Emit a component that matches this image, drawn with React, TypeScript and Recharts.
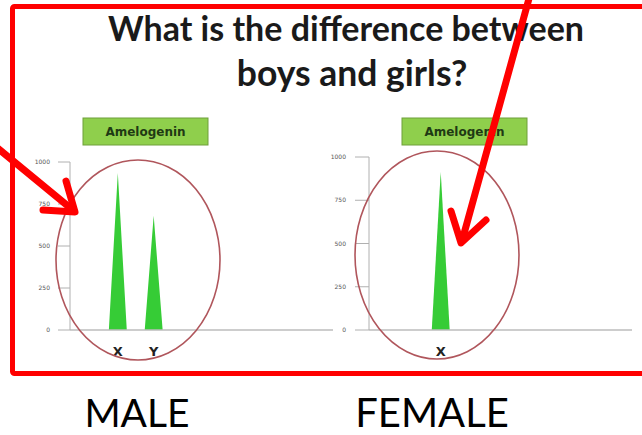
import React from "react";
import { ComposedChart, Area, XAxis, YAxis } from "recharts";

// amelogenin allele sizes (bp) and peak heights (RFU)
const maleAlleles = ["X", "Y"];
const maleSizes = [106, 112];
const maleHeights = [935, 680];

const femaleAlleles = ["X"];
const femaleSizes = [106];
const femaleHeights = [914];

const peakHalfWidth = 1.5; // bp, half the base of each peak
const rfuTicks = [0, 250, 500, 750, 1000];

const PEAK_GREEN = "#36cc36";

// each peak is a triangle: zero, apex, zero
const buildPeaks = (sizes: number[], heights: number[]) => {
  const data: { bp: number; rfu: number }[] = [];
  sizes.forEach((s, i) => {
    data.push({ bp: s - peakHalfWidth, rfu: 0 });
    data.push({ bp: s, rfu: heights[i] });
    data.push({ bp: s + peakHalfWidth, rfu: 0 });
  });
  return data;
};

type PeakProps = {
  alleles: string[];
  sizes: number[];
  heights: number[];
  domain: [number, number];
  left: number;
  top: number;
  height: number;
  tickSize: number;
  tickMargin: number;
};

const PeakChart = ({
  alleles,
  sizes,
  heights,
  domain,
  left,
  top,
  height,
  tickSize,
  tickMargin,
}: PeakProps) => {
  const label = (v: number) => {
    const i = sizes.indexOf(v);
    return i >= 0 ? alleles[i] : "";
  };
  return (
    <div style={{ position: "absolute", left, top }}>
      <ComposedChart
        width={330}
        height={height}
        data={buildPeaks(sizes, heights)}
        margin={{ top: 12, right: 17, left: 0, bottom: 10 }}
      >
        <XAxis
          dataKey="bp"
          type="number"
          domain={domain}
          allowDataOverflow
          ticks={sizes}
          tickFormatter={label}
          tickLine={false}
          tickSize={0}
          tickMargin={17}
          height={30}
          axisLine={{ stroke: "#bdbdbd", strokeWidth: 1.5 }}
          tick={{
            fill: "#222",
            fontSize: 13,
            fontWeight: 700,
            fontFamily: "DejaVu Sans",
          }}
        />
        <YAxis
          domain={[0, 1000]}
          ticks={rfuTicks}
          width={50}
          tickSize={tickSize}
          tickMargin={tickMargin}
          axisLine={{ stroke: "#b0b0b0" }}
          tickLine={{ stroke: "#b0b0b0" }}
          tick={{ fill: "#555", fontSize: 6, fontFamily: "DejaVu Sans" }}
        />
        <Area
          type="linear"
          dataKey="rfu"
          stroke="none"
          fill={PEAK_GREEN}
          fillOpacity={1}
          isAnimationActive={false}
        />
      </ComposedChart>
    </div>
  );
};

const GeneBox = ({ x, y }: { x: number; y: number }) => (
  <g>
    <rect x={x} y={y} width={125} height={27} fill="#8fcf4c" stroke="#6f9f3a" />
    <text
      x={x + 62.5}
      y={y + 18}
      textAnchor="middle"
      fontFamily="DejaVu Sans"
      fontWeight={700}
      fontSize={12}
      fill="#1f3a14"
    >
      Amelogenin
    </text>
  </g>
);

export default function App() {
  return (
    <div
      style={{
        position: "absolute",
        left: 0,
        top: 0,
        width: 642,
        height: 435,
        background: "#fff",
        overflow: "hidden",
      }}
    >
      <PeakChart
        alleles={maleAlleles}
        sizes={maleSizes}
        heights={maleHeights}
        domain={[98, 142]}
        left={20}
        top={150}
        height={220}
        tickSize={12}
        tickMargin={8}
      />
      <PeakChart
        alleles={femaleAlleles}
        sizes={femaleSizes}
        heights={femaleHeights}
        domain={[94, 138]}
        left={319}
        top={145}
        height={225}
        tickSize={14}
        tickMargin={9}
      />
      <svg
        width={642}
        height={435}
        style={{ position: "absolute", left: 0, top: 0 }}
      >
        <rect
          x={12.5}
          y={6.5}
          width={660}
          height={367}
          rx={2}
          fill="none"
          stroke="#ff0000"
          strokeWidth={5}
        />
        <text
          x={346}
          y={41}
          textAnchor="middle"
          fontFamily="Lato"
          fontWeight={700}
          fontSize={34}
          fill="#1a1a1a"
        >
          What is the difference between
        </text>
        <text
          x={352}
          y={86}
          textAnchor="middle"
          fontFamily="Lato"
          fontWeight={700}
          fontSize={35.5}
          fill="#1a1a1a"
        >
          boys and girls?
        </text>
        <GeneBox x={83} y={118} />
        <GeneBox x={402} y={118} />
        <ellipse cx={138} cy={260} rx={82} ry={100} fill="none" stroke="#b0565c" strokeWidth={1.6} />
        <ellipse cx={437} cy={255} rx={82} ry={104} fill="none" stroke="#b0565c" strokeWidth={1.6} />
        <g stroke="#ff0000" strokeWidth={7} strokeLinecap="round" fill="none">
          <line x1={-5} y1={146} x2={74} y2={211} />
          <polyline points="66,181 75,212 43,210" strokeLinejoin="round" />
          <line x1={530} y1={-5} x2={462} y2={241} />
          <polyline points="451,211 461,243 486,220" strokeLinejoin="round" />
        </g>
        <text x={137} y={427} textAnchor="middle" fontFamily="Lato" fontSize={39} fill="#000">
          MALE
        </text>
        <text x={432} y={427} textAnchor="middle" fontFamily="Lato" fontSize={40} fill="#000">
          FEMALE
        </text>
      </svg>
    </div>
  );
}
